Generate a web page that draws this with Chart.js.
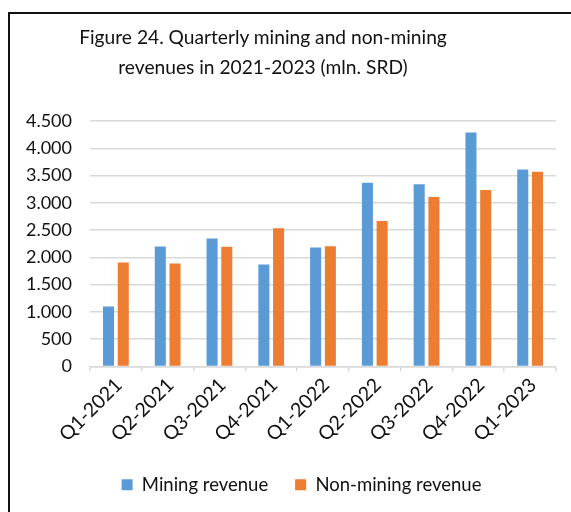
<!DOCTYPE html>
<html>
<head>
<meta charset="utf-8">
<script src="https://cdn.jsdelivr.net/npm/chart.js@4/dist/chart.umd.min.js"></script>
<style>
  html, body { margin: 0; padding: 0; background: #fff; overflow: hidden; }
  body { width: 571px; height: 512px; position: relative; }
  #frame { position: absolute; left: 8px; top: 12px; width: 620px; height: 560px; border: 2px solid #111; box-sizing: border-box; }
  #title { position: absolute; left: 0; top: 22px; width: 526px; text-align: center; font-family: Lato, sans-serif; font-size: 19.2px; line-height: 30px; color: #111; }
  canvas { position: absolute; left: 0; top: 0; }
</style>
</head>
<body>
<div id="frame"></div>
<canvas id="c" width="571" height="512"></canvas>
<div id="title">Figure 24. Quarterly mining and non-mining<br>revenues in 2021-2023 (mln. SRD)</div>
<script>
const categories = ['Q1-2021', 'Q2-2021', 'Q3-2021', 'Q4-2021', 'Q1-2022', 'Q2-2022', 'Q3-2022', 'Q4-2022', 'Q1-2023'];
const miningRevenue = [1100, 2200, 2345, 1870, 2180, 3370, 3340, 4290, 3610];
const nonMiningRevenue = [1905, 1890, 2195, 2535, 2205, 2665, 3105, 3235, 3570];
const yTickLabels = ['0', '500', '1.000', '1.500', '2.000', '2.500', '3.000', '3.500', '4.000', '4.500'];
const seriesNames = ['Mining revenue', 'Non-mining revenue'];

const FONT = 'Lato, sans-serif';
const GRID = '#D9D9D9';

const legendShift = {
  id: 'legendShift',
  afterLayout(chart) {
    const l = chart.legend;
    if (l) { l.left += 13.5; l.right += 13.5; }
  }
};

new Chart(document.getElementById('c'), {
  type: 'bar',
  data: {
    labels: categories,
    datasets: [
      { label: seriesNames[0], data: miningRevenue, backgroundColor: '#5B9BD5', categoryPercentage: 0.569, barPercentage: 0.75 },
      { label: seriesNames[1], data: nonMiningRevenue, backgroundColor: '#ED7D31', categoryPercentage: 0.569, barPercentage: 0.75 }
    ]
  },
  plugins: [legendShift],
  options: {
    responsive: false,
    animation: false,
    devicePixelRatio: 1,
    layout: { padding: { left: 20, right: 15, top: 121, bottom: 8 } },
    plugins: {
      title: { display: false },
      tooltip: { enabled: false },
      legend: {
        position: 'bottom',
        labels: {
          font: { family: FONT, size: 18.5 },
          color: '#111',
          boxWidth: 11,
          boxHeight: 11,
          padding: 27
        }
      }
    },
    scales: {
      x: {
        grid: { offset: true, drawOnChartArea: false, drawTicks: true, tickLength: 5, color: GRID, lineWidth: 1.5 },
        border: { color: GRID, width: 1.5 },
        ticks: { font: { family: FONT, size: 19.5 }, color: '#111', maxRotation: 45, minRotation: 45, padding: 2, labelOffset: 3 },
        afterFit: s => { s.height = 82; }
      },
      y: {
        min: 0,
        max: 4500,
        grid: { color: GRID, lineWidth: 1.5, drawTicks: false },
        border: { display: false },
        ticks: {
          stepSize: 500,
          padding: 18,
          font: { family: FONT, size: 18 },
          color: '#111',
          callback: (v, i) => yTickLabels[i]
        },
        afterFit: s => { s.width = 70; }
      }
    }
  }
});
</script>
</body>
</html>
